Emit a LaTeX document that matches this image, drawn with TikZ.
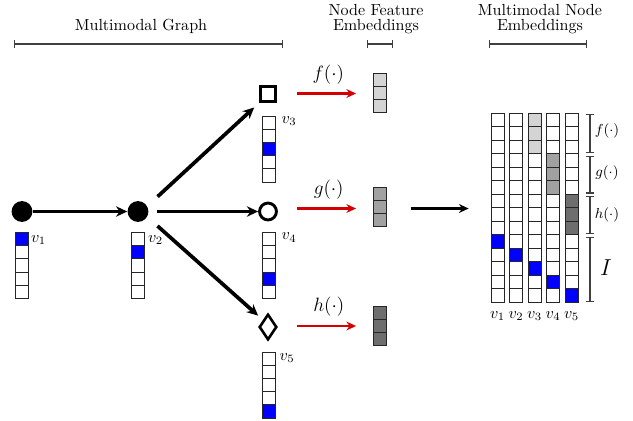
\documentclass[tikz,border=0pt]{standalone}
\usetikzlibrary{arrows.meta,shapes.geometric}

\definecolor{fgray}{gray}{0.83}
\definecolor{ggray}{gray}{0.63}
\definecolor{hgray}{gray}{0.43}
\definecolor{mapred}{RGB}{210,0,0}

\tikzset{
  cell/.style={draw=black!85,line width=0.6pt},
  bigarrow/.style={-{Stealth[length=7pt,width=6.5pt]},line width=2.3pt},
  maparrow/.style={-{Stealth[length=6pt,width=5.5pt]},line width=1.3pt,mapred},
  spanbar/.style={{Bar[width=5pt]}-{Bar[width=5pt]},line width=0.8pt,black!75},
  header/.style={align=center,font=\linespread{0.8}\selectfont},
}

\begin{document}
\begin{tikzpicture}[x=0.6226pt,y=-0.6226pt]
    \useasboundingbox (0,0) rectangle (633,420);
    % headers
    \node[header] (hgraph) at (141,26) {Multimodal Graph};
    \node[header] (hfeat) at (376,19) {Node Feature\\Embeddings};
    \node[header] (hnode) at (540,19) {Multimodal Node\\Embeddings};
    \draw[spanbar] (14,44) -- (283,44);
    \draw[spanbar] (367,44) -- (393,44);
    \draw[spanbar] (489,44) -- (587,44);
    % graph
    \node[circle,fill=black,minimum size=13pt,inner sep=0] (v1) at (22,211.5) {};
    \node[circle,fill=black,minimum size=13pt,inner sep=0] (v2) at (138,211.5) {};
    \node[draw,line width=1.8pt,minimum size=9.5pt,inner sep=0] (v3) at (268,94) {};
    \node[circle,draw,line width=1.8pt,minimum size=10.5pt,inner sep=0] (v4) at (268,211.5) {};
    \node[diamond,draw,line width=1.6pt,minimum width=11pt,minimum height=16pt,inner sep=0] (v5) at (268,327) {};
    \draw[bigarrow] (v1) -- (v2);
    \draw[bigarrow,shorten <=8.7pt,shorten >=4pt] (v2.30) -- (v3.south west);
    \draw[bigarrow,shorten <=5.3pt] (v2.east) -- (v4.west);
    \draw[bigarrow,shorten <=8.5pt,shorten >=4pt] (v2.-30) -- (v5.north west);
    % one-hot vectors
    \foreach \x/\y/\b in {15.5/232.5/0,131.5/232.5/1,262/116/2,262/232.5/3,262/352/4}{
      \foreach \i in {0,...,4}
        \draw[cell,fill=white] (\x,\y+13.2*\i) rectangle ++(13,13.2);
      \draw[cell,fill=blue] (\x,\y+13.2*\b) rectangle ++(13,13.2);
    }
    \node (l1) at (38.5,240) {$v_1$};
    \node (l2) at (155.5,240) {$v_2$};
    \node (l3) at (289,121) {$v_3$};
    \node (l4) at (289,237.5) {$v_4$};
    \node (l5) at (287,358) {$v_5$};
    % feature embeddings
    \foreach \y/\col in {73/fgray,187/ggray,306/hgray}
      \foreach \i in {0,1,2}
        \draw[cell,fill=\col] (373,\y+13.3*\i) rectangle ++(13,13.3);
    \coordinate (ef) at (379.5,93.5);
    \coordinate (eg) at (379.5,208.5);
    \coordinate (eh) at (379.5,326);
    \draw[maparrow,shorten <=12.5pt,shorten >=14.6pt] (v3.east |- ef) -- (ef)
      node[midway,above=2pt,font=\large,black] (lf) {$f(\cdot)$};
    \draw[maparrow,shorten <=12pt,shorten >=14.6pt] (v4.east |- eg) -- (eg)
      node[midway,above=2pt,font=\large,black] (lg) {$g(\cdot)$};
    \draw[maparrow,shorten <=11.8pt,shorten >=14.6pt] (v5.east |- eh) -- (eh)
      node[midway,above=2pt,font=\large,black] (lh) {$h(\cdot)$};
    % multimodal node embeddings
    \node[minimum width=54.8pt,minimum height=117.7pt,inner sep=0] (mat) at (535,207.8) {};
    \draw[-{Stealth[length=6pt,width=5.5pt]},line width=1.3pt,shorten <=19.6pt,shorten >=13.7pt]
      (eg) -- (eg -| mat.west);
    \foreach \c in {0,...,4}
      \foreach \r in {0,...,13}
        \draw[cell,fill=white] (491+18.5*\c,113.3+13.5*\r) rectangle ++(13,13.5);
    \foreach \r in {0,1,2}{
      \draw[cell,fill=fgray] (528,113.3+13.5*\r) rectangle ++(13,13.5);
      \draw[cell,fill=ggray] (546.5,153.8+13.5*\r) rectangle ++(13,13.5);
      \draw[cell,fill=hgray] (565,194.3+13.5*\r) rectangle ++(13,13.5);
    }
    \foreach \c in {0,...,4}
      \draw[cell,fill=blue] (491+18.5*\c,234.8+13.5*\c) rectangle ++(13,13.5);
    \foreach \i in {1,...,5}
      \node (c\i) at (479+18.5*\i,316) {$v_\i$};
    % blocks
    \draw[spanbar] (590,114) -- (590,153);
    \draw[spanbar] (590,155.5) -- (590,193.5);
    \draw[spanbar] (590,196) -- (590,234);
    \draw[spanbar] (590,236.5) -- (590,302);
    \node[font=\small] (bf) at (607,131) {$f(\cdot)$};
    \node[font=\small] (bg) at (607,173) {$g(\cdot)$};
    \node[font=\small] (bh) at (607,215) {$h(\cdot)$};
    \node[font=\Large] (bi) at (606,268) {$I$};
\end{tikzpicture}
\end{document}
